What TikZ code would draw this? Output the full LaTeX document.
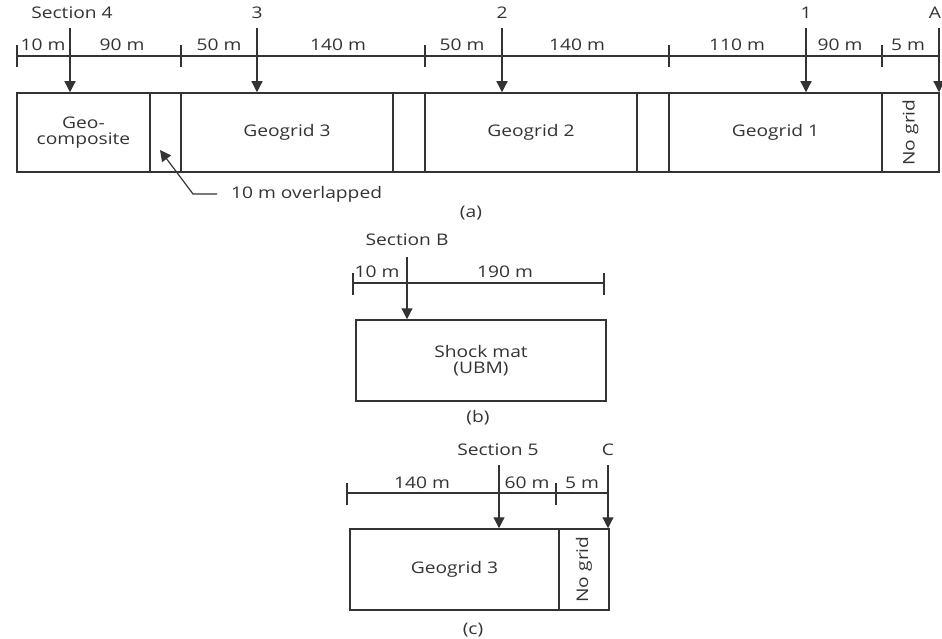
\documentclass[tikz,border=0pt]{standalone}
\usepackage{fontspec}
\setmainfont{Open Sans}[FakeStretch=1.2]
\usetikzlibrary{arrows.meta}
\definecolor{ink}{HTML}{333333}
\begin{document}
\begin{tikzpicture}[x=1pt,y=-1pt,
  font=\fontsize{16}{19}\selectfont,
  every node/.style={text=ink},
  box/.style={draw=ink,line width=1.5pt,inner sep=0pt,align=center},
  arr/.style={draw=ink,line width=1.2pt,-{Triangle[width=11pt,length=11pt]}},
  dim/.style={draw=ink,line width=1.1pt},
  lbl/.style={inner sep=0pt}]
\useasboundingbox (0,0) rectangle (942,639);
% ---------- (a) ----------
\node[box,minimum width=133pt,minimum height=79pt] (geo) at (83.5,132.5) {Geo-\\[-3pt]composite};
\node[box,minimum width=31pt,minimum height=79pt] (ova) at (165.5,132.5) {};
\node[box,minimum width=212pt,minimum height=79pt] (g3) at (287,132.5) {Geogrid 3};
\node[box,minimum width=32pt,minimum height=79pt] (ovb) at (409,132.5) {};
\node[box,minimum width=212pt,minimum height=79pt] (g2) at (531,132.5) {Geogrid 2};
\node[box,minimum width=32pt,minimum height=79pt] (ovc) at (653,132.5) {};
\node[box,minimum width=213pt,minimum height=79pt] (g1) at (775.5,132.5) {Geogrid 1};
\node[box,minimum width=79pt,minimum height=57pt,rotate=90] (nga) at (910.5,132.5) {No grid};
% dimension line
\draw[dim] (17,56) -- (939,56);
\foreach \x in {17,181,425,669,882} \draw[dim] (\x,45) -- (\x,67);
\node[lbl] (d1) at (43,45) {10 m};
\node[lbl] (d2) at (122,45) {90 m};
\node[lbl] (d3) at (219,45) {50 m};
\node[lbl] (d4) at (338,45) {140 m};
\node[lbl] (d5) at (462,45) {50 m};
\node[lbl] (d6) at (577,45) {140 m};
\node[lbl] (d7) at (737,45) {110 m};
\node[lbl] (d8) at (840,45) {90 m};
\node[lbl] (d9) at (908,45) {5 m};
% section labels and arrows
\node[lbl] (s4) at (72,13) {Section 4};
\node[lbl] (s3) at (257,13) {3};
\node[lbl] (s2) at (502,13) {2};
\node[lbl] (s1) at (806,13) {1};
\node[lbl] (sA) at (935,13) {A};
\coordinate (a4) at (70,28);
\coordinate (a3) at (257,28);
\coordinate (a2) at (502,28);
\coordinate (a1) at (806,28);
\coordinate (aA) at (939,28);
\draw[arr] (a4) -- (a4 |- geo.north);
\draw[arr] (a3) -- (a3 |- g3.north);
\draw[arr] (a2) -- (a2 |- g2.north);
\draw[arr] (a1) -- (a1 |- g1.north);
\draw[arr] (aA) -- (aA |- g1.north);
% overlap note
\node[lbl,anchor=west] (ovtxt) at (231,194) {10 m overlapped};
\coordinate (ovs) at (217,194);
\coordinate (ovk) at (193,194);
\coordinate (ovt) at (160,150);
\draw[arr] (ovs) -- (ovk) -- (ovt);
\node[lbl] (capa) at (471,213) {(a)};
% ---------- (b) ----------
\node[lbl] (sB) at (407,240) {Section B};
\draw[dim] (353,283) -- (604,283);
\foreach \x in {353,604} \draw[dim] (\x,273) -- (\x,295);
\node[lbl] (b1) at (377,272) {10 m};
\node[lbl] (b2) at (505,272) {190 m};
\node[box,minimum width=250pt,minimum height=81pt] (sm) at (481,360.5) {Shock mat\\[-3pt](UBM)};
\coordinate (aB) at (407,257);
\draw[arr] (aB) -- (aB |- sm.north);
\node[lbl] (capb) at (478,418) {(b)};
% ---------- (c) ----------
\node[lbl] (s5) at (498,450) {Section 5};
\node[lbl] (sC) at (608,450) {C};
\draw[dim] (347,493) -- (608,493);
\foreach \x in {347,556} \draw[dim] (\x,483) -- (\x,505);
\node[lbl] (c1) at (422,483) {140 m};
\node[lbl] (c2) at (527,483) {60 m};
\node[lbl] (c3) at (582,483) {5 m};
\node[box,minimum width=209pt,minimum height=81pt] (g3c) at (454.5,569.5) {Geogrid 3};
\node[box,minimum width=81pt,minimum height=50pt,rotate=90] (ngc) at (584,569.5) {No grid};
\coordinate (a5) at (499,465);
\coordinate (aC) at (608,465);
\draw[arr] (a5) -- (a5 |- g3c.north);
\draw[arr] (aC) -- (aC |- g3c.north);
\node[lbl] (capc) at (473,630) {(c)};
\end{tikzpicture}
\end{document}
